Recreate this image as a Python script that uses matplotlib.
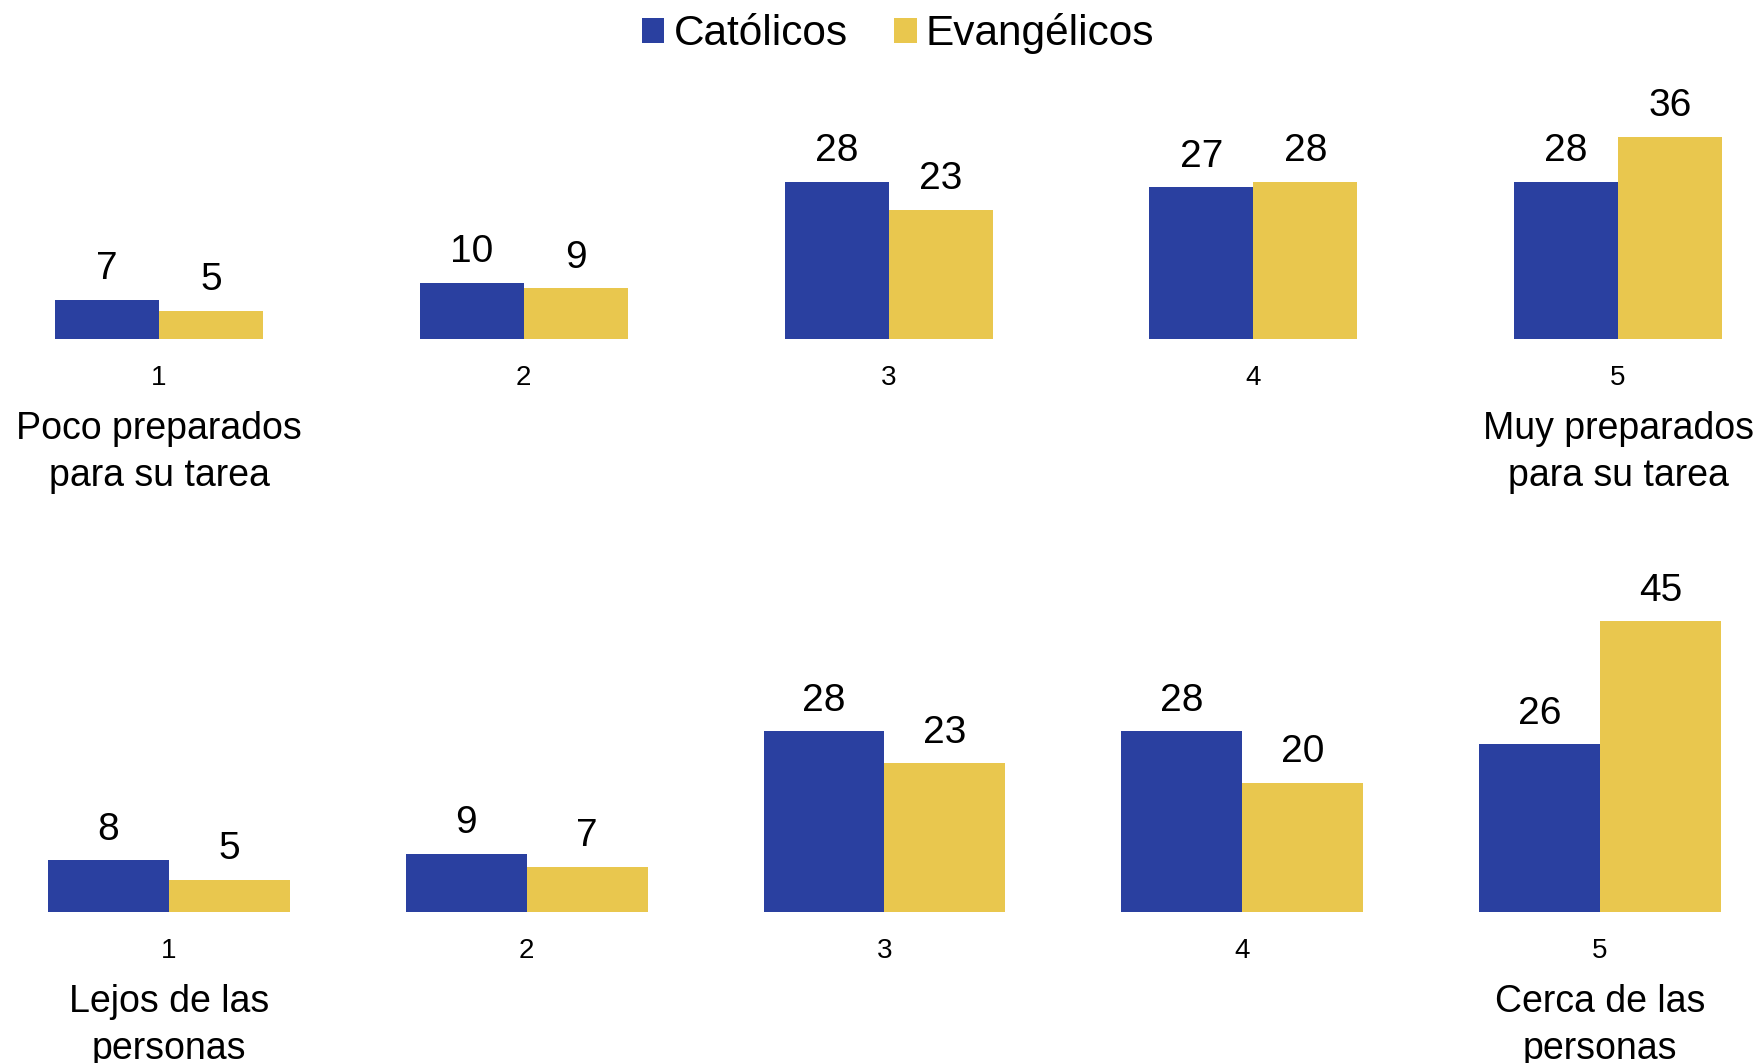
import numpy as np
import matplotlib
matplotlib.use("Agg")
import matplotlib.pyplot as plt

plt.rcParams['font.family'] = ['Liberation Sans', 'DejaVu Sans']

# datos
escala = ["1", "2", "3", "4", "5"]
series = ["Católicos", "Evangélicos"]
prep_catolicos = [7, 10, 28, 27, 28]
prep_evangelicos = [5, 9, 23, 28, 36]
cerca_catolicos = [8, 9, 28, 28, 26]
cerca_evangelicos = [5, 7, 23, 20, 45]
prep_extremos = ["Poco preparados\npara su tarea", "Muy preparados\npara su tarea"]
cerca_extremos = ["Lejos de las\npersonas", "Cerca de las\npersonas"]

AZUL = '#2A40A0'
AMARILLO = '#E9C74E'

W, H = 1760, 1063
fig = plt.figure(figsize=(W / 100, H / 100), dpi=100)

x = np.arange(len(escala))


def panel(rect, xlim, ylim, ancho, cat, evg, extremos, ytexto):
    ax = fig.add_axes(rect)
    b1 = ax.bar(x - ancho / 2, cat, ancho, color=AZUL, label=series[0])
    b2 = ax.bar(x + ancho / 2, evg, ancho, color=AMARILLO, label=series[1])
    for bars in (b1, b2):
        for r in bars:
            ax.annotate(f"{r.get_height():.0f}",
                        xy=(r.get_x() + r.get_width() / 2, r.get_height()),
                        xytext=(0, 9), textcoords='offset points',
                        ha='center', va='bottom', fontsize=28)
    ax.set_xlim(*xlim)
    ax.set_ylim(*ylim)
    ax.set_xticks(x)
    ax.set_xticklabels(escala, fontsize=20)
    ax.tick_params(axis='x', length=0, pad=19)
    ax.set_yticks([])
    for s in ax.spines.values():
        s.set_visible(False)
    ax.text(x[0], ytexto, extremos[0], ha='center', va='top',
            fontsize=27, linespacing=1.38, clip_on=False)
    ax.text(x[-1], ytexto, extremos[1], ha='center', va='top',
            fontsize=27, linespacing=1.38, clip_on=False)
    return ax, b1, b2


# panel superior
esp1 = 364.75
ax1, h1, h2 = panel([0, (H - 339) / H, 1, 40 * 5.62 / H],
                    (-159 / esp1, (W - 159) / esp1), (0, 40), 104 / esp1,
                    prep_catolicos, prep_evangelicos, prep_extremos, -12.9)

# panel inferior
esp2 = 357.75
panel([0, (H - 912) / H, 1, 50 * 6.46 / H],
      (-169 / esp2, (W - 169) / esp2), (0, 50), 121 / esp2,
      cerca_catolicos, cerca_evangelicos, cerca_extremos, -11.2)

fig.legend([h1, h2], series, loc='center', bbox_to_anchor=(898 / W, 1 - 34 / H),
           ncol=2, frameon=False, fontsize=30.5, handlelength=0.53,
           handleheight=0.53, handletextpad=0.22, columnspacing=1.1)

fig.savefig("out.png", dpi=100)
